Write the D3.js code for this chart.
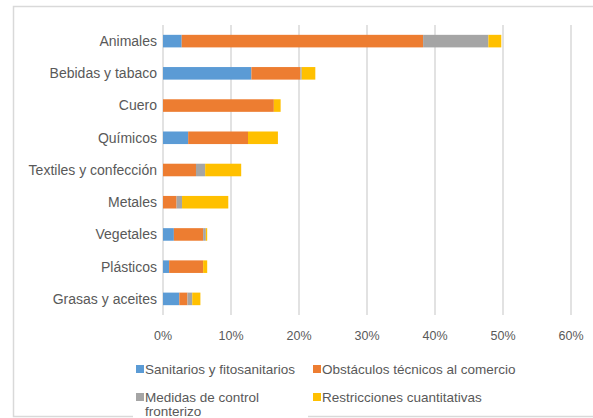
<!DOCTYPE html>
<meta charset="utf-8">
<script src="https://d3js.org/d3.v7.min.js"></script>
<style>
  body { margin: 0; background: #fff; }
  text { font-family: "Liberation Sans", Arial, sans-serif; fill: #595959; }
</style>
<div id="chart"></div>
<script>
	// Data (share of measures, %)
	var categories = ["Animales", "Bebidas y tabaco", "Cuero", "Químicos", "Textiles y confección",
		"Metales", "Vegetales", "Plásticos", "Grasas y aceites"];
	var sanitarios   = [2.75, 13.0, 0,    3.7, 0,    0,   1.6, 0.9, 2.4];
	var obstaculos   = [35.5, 7.2,  16.3, 8.8, 4.85, 2.0, 4.3, 5.0, 1.2];
	var control      = [9.6,  0.2,  0,    0,   1.35, 0.8, 0.4, 0,   0.7];
	var restricciones = [1.9, 2.0,  1.0,  4.4, 5.3,  6.8, 0.2, 0.6, 1.2];
	var seriesNames = ["Sanitarios y fitosanitarios", "Obstáculos técnicos al comercio",
		"Medidas de control fronterizo", "Restricciones cuantitativas"];
	var seriesColors = ["#5B9BD5", "#ED7D31", "#A5A5A5", "#FFC000"];
	var ticks = [0, 10, 20, 30, 40, 50, 60];

	var width = 593, height = 418;
	var svg = d3.select("#chart").append("svg")
		.attr("width", width)
		.attr("height", height);

	// Outer frame
	svg.append("rect")
		.attr("x", 13.5).attr("y", 6.5)
		.attr("width", 600).attr("height", 410)
		.attr("fill", "none")
		.attr("stroke", "#d9d9d9")
		.attr("stroke-width", 1.5);

	var x = d3.scaleLinear().domain([0, 60]).range([163, 571]);
	var y = d3.scaleBand().domain(categories).range([25, 315]).paddingInner(0.61).paddingOuter(0.305);

	// Gridlines
	svg.append("g").selectAll("line")
		.data(ticks)
		.join("line")
		.attr("x1", d => x(d)).attr("x2", d => x(d))
		.attr("y1", 25).attr("y2", 315)
		.attr("stroke", "#d9d9d9")
		.attr("stroke-width", 1.5);

	// Stack data
	var rows = categories.map((c, i) => ({
		cat: c, s0: sanitarios[i], s1: obstaculos[i], s2: control[i], s3: restricciones[i]
	}));
	var stack = d3.stack().keys(["s0", "s1", "s2", "s3"])(rows);

	svg.append("g").selectAll("g")
		.data(stack)
		.join("g")
		.attr("fill", (d, i) => seriesColors[i])
		.selectAll("rect")
		.data(d => d)
		.join("rect")
		.attr("x", d => x(d[0]))
		.attr("width", d => x(d[1]) - x(d[0]))
		.attr("y", d => y(d.data.cat))
		.attr("height", y.bandwidth());

	// Category labels
	svg.append("g").selectAll("text")
		.data(categories)
		.join("text")
		.attr("x", 157)
		.attr("y", d => y(d) + y.bandwidth() / 2)
		.attr("dy", "0.35em")
		.attr("text-anchor", "end")
		.style("font-size", "14px")
		.text(d => d);

	// Tick labels
	svg.append("g").selectAll("text")
		.data(ticks)
		.join("text")
		.attr("x", d => x(d))
		.attr("y", 336)
		.attr("dy", "0.35em")
		.attr("text-anchor", "middle")
		.style("font-size", "12.5px")
		.text(d => d + "%");

	// Legend
	var legend = svg.append("g");
	legend.append("rect")
		.attr("x", 133).attr("y", 355).attr("width", 175).attr("height", 63)
		.attr("fill", "#fff");
	var legPos = [[136, 369], [313, 369], [136, 397], [313, 397]];
	seriesNames.forEach((name, i) => {
		var g = legend.append("g").attr("transform", "translate(" + legPos[i][0] + "," + legPos[i][1] + ")");
		g.append("rect")
			.attr("x", 0).attr("y", -4)
			.attr("width", 8).attr("height", 8)
			.attr("fill", seriesColors[i]);
		var t = g.append("text")
			.attr("x", 9)
			.attr("dy", "0.35em")
			.style("font-size", "13.5px");
		if (i == 2) {
			t.append("tspan").attr("x", 9).text("Medidas de control");
			t.append("tspan").attr("x", 9).attr("dy", "1.05em").text("fronterizo");
		} else {
			t.text(name);
		}
	});
</script>
